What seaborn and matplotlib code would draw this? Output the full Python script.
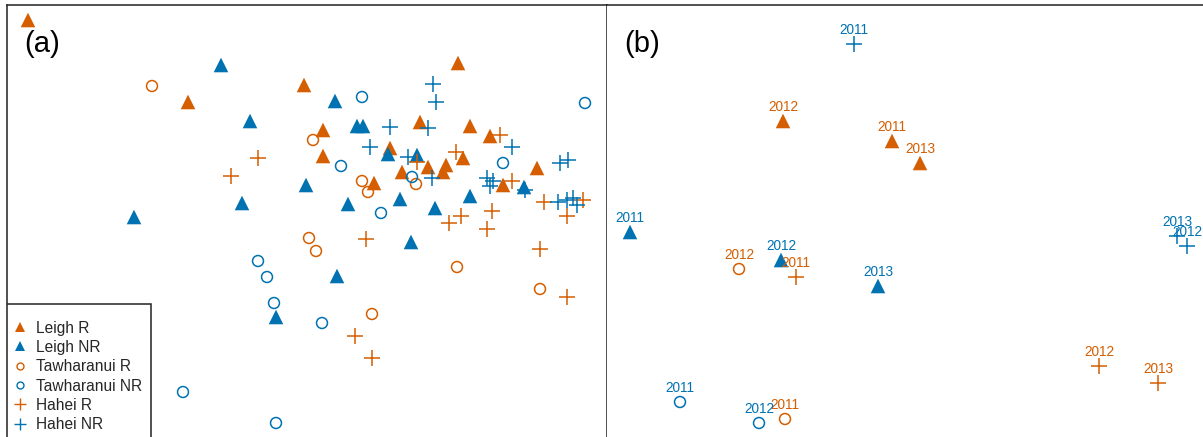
import matplotlib
matplotlib.use("Agg")
import matplotlib.pyplot as plt
from matplotlib.lines import Line2D
from matplotlib.patches import Rectangle
import seaborn as sns
import pandas as pd

sns.set_theme(style="white")
plt.rcParams['font.family'] = ['Liberation Sans', 'DejaVu Sans']

ORANGE = "#D55E00"
BLUE = "#0072B2"

# ---------------- Panel (a): individual samples (nMDS, arbitrary units) ----------
leigh_r_x = [21, 181, 297, 451, 316, 316, 413, 463, 483, 383, 456, 421, 439, 436, 395, 367, 496, 530]
leigh_r_y = [417, 335, 352, 374, 307, 281, 315, 311, 301, 289, 279, 270, 272, 265, 265, 254, 252, 269]
leigh_nr_x = [214, 243, 127, 235, 328, 350, 356, 381, 410, 299, 341, 393, 428, 463, 517, 404, 330, 269]
leigh_nr_y = [372, 316, 220, 234, 336, 311, 311, 283, 282, 252, 233, 238, 229, 241, 250, 195, 161, 120]
taw_r_x = [145, 306, 355, 361, 409, 302, 309, 450, 533, 365]
taw_r_y = [351, 297, 256, 245, 253, 199, 186, 170, 148, 123]
taw_nr_x = [355, 334, 405, 496, 578, 374, 251, 260, 267, 176, 269, 315]
taw_nr_y = [340, 271, 260, 274, 334, 224, 176, 160, 134, 45, 14, 114]
hahei_r_x = [251, 224, 410, 449, 493, 505, 537, 576, 560, 485, 454, 442, 480, 359, 533, 560, 348, 365]
hahei_r_y = [279, 261, 275, 285, 302, 256, 235, 237, 221, 226, 221, 214, 208, 198, 188, 140, 101, 79]
hahei_nr_x = [426, 429, 383, 421, 363, 401, 425, 505, 480, 486, 483, 553, 561, 518, 551, 560, 566, 570]
hahei_nr_y = [353, 335, 310, 309, 290, 280, 259, 290, 259, 256, 251, 274, 277, 247, 235, 237, 239, 232]

# ---------------- Panel (b): centroids per year ----------------------------------
b_leigh_r_years = ["2011", "2012", "2013"]
b_leigh_r_x = [285, 176, 313]
b_leigh_r_y = [296, 316, 274]
b_leigh_nr_years = ["2011", "2012", "2013"]
b_leigh_nr_x = [23, 174, 271]
b_leigh_nr_y = [205, 177, 151]
b_taw_r_years = ["2011", "2012"]
b_taw_r_x = [178, 132]
b_taw_r_y = [18, 168]
b_taw_nr_years = ["2011", "2012"]
b_taw_nr_x = [73, 152]
b_taw_nr_y = [35, 14]
b_hahei_r_years = ["2011", "2012", "2013"]
b_hahei_r_x = [189, 492, 551]
b_hahei_r_y = [160, 71, 54]
b_hahei_nr_years = ["2011", "2012", "2013"]
b_hahei_nr_x = [247, 580, 570]
b_hahei_nr_y = [393, 191, 201]

group_labels = ["Leigh R", "Leigh NR", "Tawharanui R", "Tawharanui NR", "Hahei R", "Hahei NR"]
group_colors = [ORANGE, BLUE, ORANGE, BLUE, ORANGE, BLUE]
group_markers = ["^", "^", "o", "o", "+", "+"]

W, H = 1203, 437
fig = plt.figure(figsize=(W / 100, H / 100), dpi=100)
ax_a = fig.add_axes([7 / W, 0, 600 / W, 432 / H])
ax_b = fig.add_axes([607 / W, 0, 596 / W, 432 / H])


def draw(ax, x, y, marker, color):
    df = pd.DataFrame({"x": x, "y": y})
    if marker == "^":
        sns.scatterplot(data=df, x="x", y="y", ax=ax, marker="^", s=110,
                        color=color, edgecolor="none", linewidth=0, zorder=3)
    elif marker == "o":
        sns.scatterplot(data=df, x="x", y="y", ax=ax, marker="o", s=62,
                        facecolors="none", edgecolors=color, linewidths=1.1, zorder=3)
    else:
        sns.scatterplot(data=df, x="x", y="y", ax=ax, marker="+", s=135,
                        color=color, linewidth=1.1, zorder=3)


a_data = [(leigh_r_x, leigh_r_y), (leigh_nr_x, leigh_nr_y), (taw_r_x, taw_r_y),
          (taw_nr_x, taw_nr_y), (hahei_r_x, hahei_r_y), (hahei_nr_x, hahei_nr_y)]
for (x, y), m, c in zip(a_data, group_markers, group_colors):
    draw(ax_a, x, y, m, c)

b_data = [(b_leigh_r_x, b_leigh_r_y, b_leigh_r_years),
          (b_leigh_nr_x, b_leigh_nr_y, b_leigh_nr_years),
          (b_taw_r_x, b_taw_r_y, b_taw_r_years),
          (b_taw_nr_x, b_taw_nr_y, b_taw_nr_years),
          (b_hahei_r_x, b_hahei_r_y, b_hahei_r_years),
          (b_hahei_nr_x, b_hahei_nr_y, b_hahei_nr_years)]
for (x, y, yrs), m, c in zip(b_data, group_markers, group_colors):
    draw(ax_b, x, y, m, c)
    for xi, yi, lab in zip(x, y, yrs):
        ax_b.annotate(lab, (xi, yi), xytext=(0, 7.5), textcoords="offset points",
                      ha="center", va="baseline", fontsize=9.8, color=c, zorder=4)

for ax, lab, xr in [(ax_a, "(a)", 600), (ax_b, "(b)", 596)]:
    ax.set_xlim(0, xr)
    ax.set_ylim(0, 432)
    ax.set_xticks([])
    ax.set_yticks([])
    ax.set_xlabel("")
    ax.set_ylabel("")
    for s in ax.spines.values():
        s.set_color("#222222")
        s.set_linewidth(1.1)
    ax.spines["bottom"].set_visible(False)
    ax.text(17 / 600, 393 / 432, lab, transform=ax.transAxes, fontsize=21,
            ha="left", va="center", color="black")
ax_b.spines["right"].set_visible(False)
ax_b.spines["left"].set_visible(False)

# legend frame (box open at the bottom edge of the picture)
ax_a.add_patch(Rectangle((0, -20), 144, 153, transform=ax_a.transData,
                         facecolor="white", edgecolor="#222222", linewidth=1.1,
                         zorder=5, clip_on=True))

handles = []
for lab, c, m in zip(group_labels, group_colors, group_markers):
    if m == "^":
        h = Line2D([], [], linestyle="none", marker="^", markersize=7, color=c, markeredgewidth=0)
    elif m == "o":
        h = Line2D([], [], linestyle="none", marker="o", markersize=5, markerfacecolor="none",
                   markeredgecolor=c, markeredgewidth=1.0)
    else:
        h = Line2D([], [], linestyle="none", marker="+", markersize=8, color=c, markeredgewidth=1.0)
    handles.append(h)

leg = ax_a.legend(handles=handles, labels=group_labels, loc="upper left",
                  bbox_to_anchor=(6 / 600, 116.5 / 432), fontsize=11.2, frameon=False,
                  borderpad=0, labelspacing=0.28, handlelength=0.9,
                  handletextpad=0.55, borderaxespad=0)
leg.set_zorder(6)

fig.savefig("out.png", dpi=100)
